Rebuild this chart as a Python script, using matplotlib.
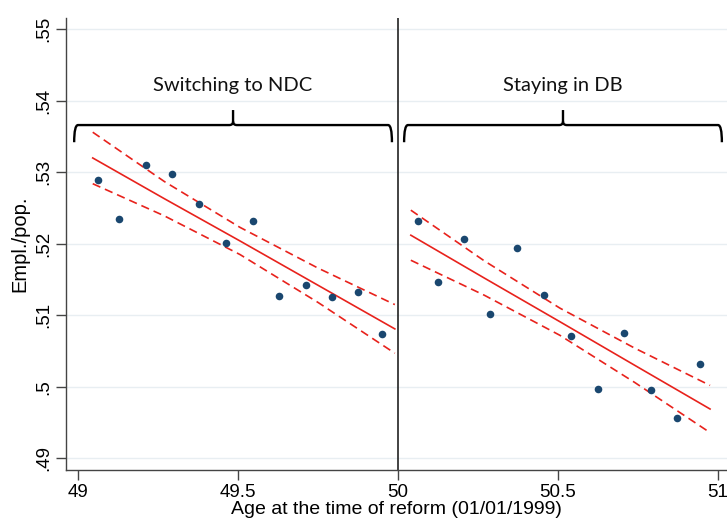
import matplotlib
matplotlib.use("Agg")
import matplotlib.pyplot as plt
from matplotlib.path import Path
from matplotlib.patches import PathPatch

# ---- data ----
left_x = [49.063, 49.128, 49.213, 49.294, 49.379, 49.462, 49.546, 49.629, 49.712, 49.795, 49.876, 49.949]
left_y = [0.5289, 0.5235, 0.5310, 0.5298, 0.5256, 0.5201, 0.5232, 0.5127, 0.5142, 0.5125, 0.5133, 0.5074]
right_x = [50.062, 50.124, 50.207, 50.288, 50.373, 50.456, 50.541, 50.625, 50.707, 50.792, 50.871, 50.945]
right_y = [0.5232, 0.5147, 0.5206, 0.5102, 0.5194, 0.5129, 0.5071, 0.4997, 0.5075, 0.4995, 0.4957, 0.5032]

left_fit_x = [49.046, 49.27, 49.506, 49.75, 49.99]
left_fit = [0.5320, 0.5263, 0.5204, 0.5142, 0.5081]
left_hi = [0.5356, 0.5287, 0.5223, 0.5166, 0.5115]
left_lo = [0.5284, 0.5239, 0.5185, 0.5118, 0.5047]

right_fit_x = [50.04, 50.27, 50.506, 50.74, 50.975]
right_fit = [0.5212, 0.5152, 0.5091, 0.5030, 0.4969]
right_hi = [0.5247, 0.5176, 0.5110, 0.5054, 0.5002]
right_lo = [0.5177, 0.5128, 0.5072, 0.5006, 0.4936]

x_ticks = [49, 49.5, 50, 50.5, 51]
x_ticklabels = ["49", "49.5", "50", "50.5", "51"]
y_ticks = [0.49, 0.50, 0.51, 0.52, 0.53, 0.54, 0.55]
y_ticklabels = [".49", ".5", ".51", ".52", ".53", ".54", ".55"]
group_labels = ["Switching to NDC", "Staying in DB"]
brace_spans = [(48.988, 49.981), (50.019, 51.012)]

NAVY = "#1a476f"
RED = "#e8221c"

fig = plt.figure(figsize=(7.27, 5.27), dpi=100)
ax = fig.add_axes([0.0908, 0.108, 0.9092, 0.858])

ax.set_xlim(48.9625, 51.028)
ax.set_ylim(0.48836, 0.55158)

for y in y_ticks:
    ax.axhline(y, color="#e8eef2", lw=1.0, zorder=0)

ax.axvline(50, color="#222222", lw=1.2, zorder=1)

for fx, f, hi, lo in [(left_fit_x, left_fit, left_hi, left_lo),
                      (right_fit_x, right_fit, right_hi, right_lo)]:
    ax.plot(fx, f, color=RED, lw=1.2, zorder=2)
    ax.plot(fx, hi, color=RED, lw=1.2, ls=(0, (5, 3)), zorder=2)
    ax.plot(fx, lo, color=RED, lw=1.2, ls=(0, (5, 3)), zorder=2)

ax.scatter(left_x, left_y, s=30, color=NAVY, zorder=3, linewidths=0)
ax.scatter(right_x, right_y, s=30, color=NAVY, zorder=3, linewidths=0)

# braces
y_line, y_end, y_peak = 0.5366, 0.5342, 0.5387
for (x0, x1), lab in zip(brace_spans, group_labels):
    xm = (x0 + x1) / 2
    dx = 0.012
    dy = 0.0005
    verts = [
        (x0, y_end), (x0, y_line), (x0 + dx, y_line),
        (xm - dx, y_line),
        (xm, y_line), (xm, y_line + dy),
        (xm, y_peak),
        (xm, y_line + dy), (xm, y_line), (xm + dx, y_line),
        (x1 - dx, y_line),
        (x1, y_line), (x1, y_end),
    ]
    codes = [Path.MOVETO, Path.CURVE3, Path.CURVE3,
             Path.LINETO,
             Path.CURVE3, Path.CURVE3,
             Path.LINETO,
             Path.MOVETO, Path.CURVE3, Path.CURVE3,
             Path.LINETO,
             Path.CURVE3, Path.CURVE3]
    ax.add_patch(PathPatch(Path(verts, codes), fill=False, ec="black", lw=1.7,
                           zorder=4, capstyle="butt"))
    ax.text(xm, 0.5421, lab, ha="center", va="center", fontsize=14.5,
            family="Lato", color="#111111")

for s in ["top", "right"]:
    ax.spines[s].set_visible(False)
for s in ["left", "bottom"]:
    ax.spines[s].set_color("#444444")
    ax.spines[s].set_linewidth(1.0)

ax.set_xticks(x_ticks)
ax.set_xticklabels(x_ticklabels, family="Liberation Sans", fontsize=13.5)
ax.set_yticks(y_ticks)
ax.set_yticklabels(y_ticklabels, family="Liberation Sans", fontsize=13.5,
                   rotation=90, va="center")
ax.tick_params(axis="both", direction="out", length=7, width=1.0, color="#444444", pad=3)

ax.set_xlabel("Age at the time of reform (01/01/1999)", family="Liberation Sans",
              fontsize=14, labelpad=0)
ax.set_ylabel("Empl./pop.", family="Liberation Sans", fontsize=14.5, labelpad=4)

fig.savefig("out.png", dpi=100)
